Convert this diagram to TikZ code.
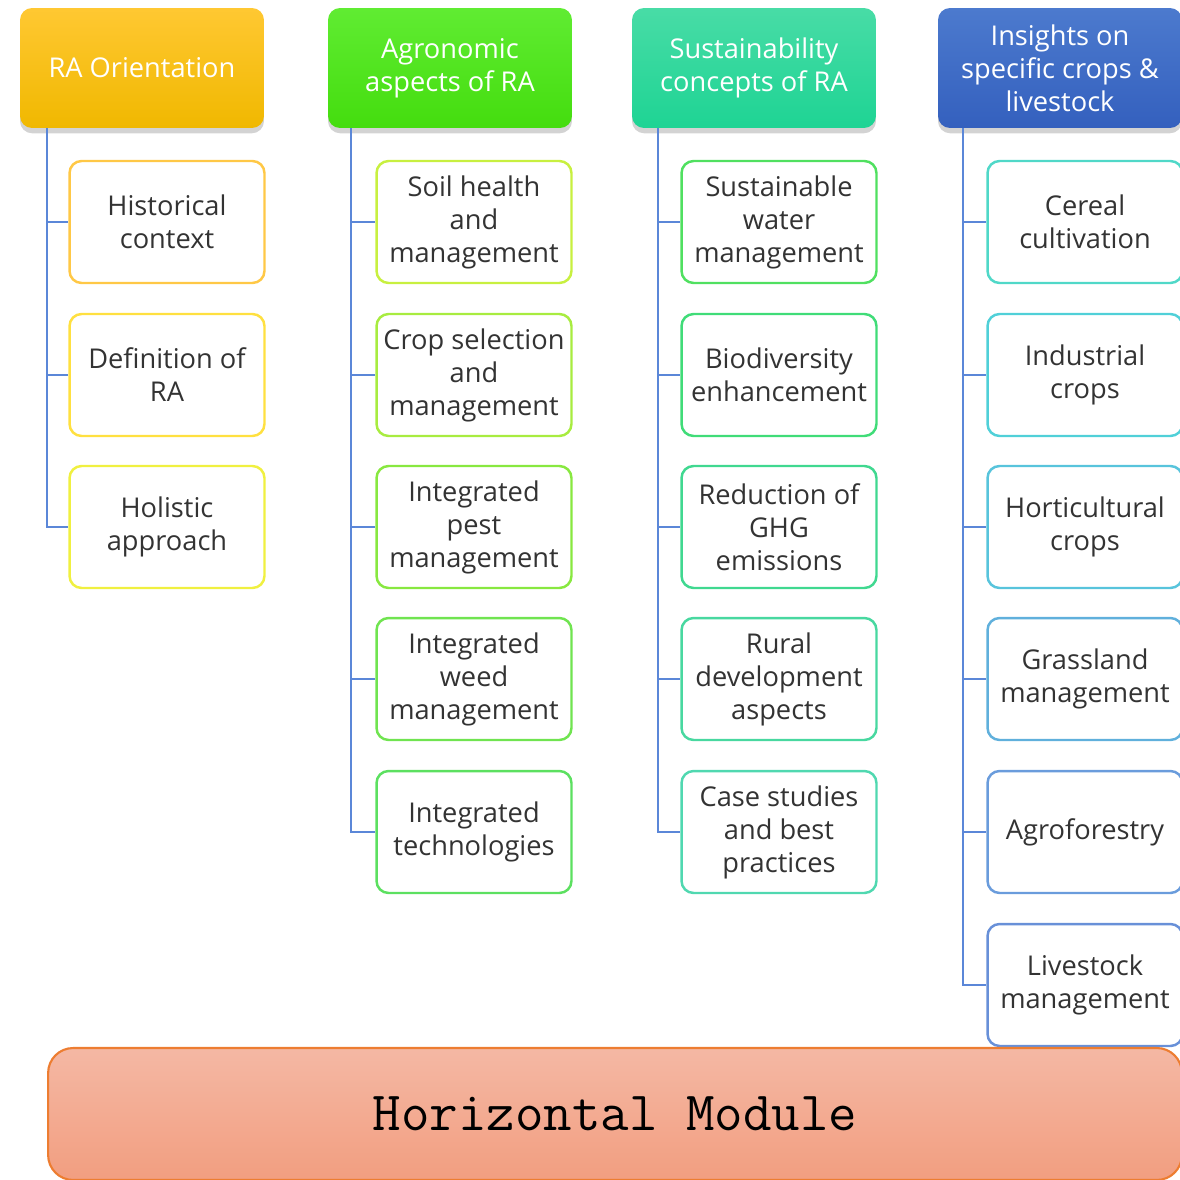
\documentclass[tikz,border=0pt]{standalone}
\usepackage{fontspec}
\setmainfont{Open Sans}
\usepackage{xcolor}
\usepackage{tikz}
\usetikzlibrary{shadows}

\definecolor{treeblue}{HTML}{5B87D8}
\definecolor{textgray}{HTML}{333333}
% header fills
\definecolor{goldtop}{HTML}{FFC832}
\definecolor{goldbot}{HTML}{F0B800}
\definecolor{greentop}{HTML}{60EC32}
\definecolor{greenbot}{HTML}{44DD0E}
\definecolor{tealtop}{HTML}{48DCA6}
\definecolor{tealbot}{HTML}{1ED494}
\definecolor{bluetop}{HTML}{4C7ACE}
\definecolor{bluebot}{HTML}{3460BE}
% topic borders
\definecolor{ra1}{HTML}{FFC846}
\definecolor{ra2}{HTML}{FFE040}
\definecolor{ra3}{HTML}{F0F040}
\definecolor{ag1}{HTML}{C8F040}
\definecolor{ag2}{HTML}{A8EC40}
\definecolor{ag3}{HTML}{88E840}
\definecolor{ag4}{HTML}{70E450}
\definecolor{ag5}{HTML}{5CE060}
\definecolor{su1}{HTML}{50E060}
\definecolor{su2}{HTML}{40DC78}
\definecolor{su3}{HTML}{40D890}
\definecolor{su4}{HTML}{48D8A0}
\definecolor{su5}{HTML}{50D8B0}
\definecolor{in1}{HTML}{50D8C8}
\definecolor{in2}{HTML}{50D0D8}
\definecolor{in3}{HTML}{58C4DC}
\definecolor{in4}{HTML}{60B0DC}
\definecolor{in5}{HTML}{6A9CDC}
\definecolor{in6}{HTML}{6890D8}
% bottom module
\definecolor{modline}{HTML}{ED7D31}
\definecolor{modtop}{HTML}{F4B8A4}
\definecolor{modbot}{HTML}{F29E80}

\begin{document}
\begin{tikzpicture}[x=0.02cm,y=-0.02cm,
  head/.style={rounded corners=0.24cm, minimum width=4.88cm, minimum height=2.4cm,
    align=center, text=white, font=\fontsize{15.5}{18.8}\selectfont,
    drop shadow={opacity=0.35, shadow xshift=0pt, shadow yshift=-3pt}},
  topic/.style={draw=#1, line width=1.4pt, fill=white, rounded corners=0.24cm,
    minimum width=3.9cm, minimum height=2.44cm, align=center, text=textgray,
    font=\fontsize{15.5}{18.8}\selectfont},
  tree/.style={draw=treeblue, line width=1.2pt}]
\useasboundingbox (0,0) rectangle (1180,1180);
\clip (0,0) rectangle (1180,1180);

% headers
\node[head, top color=goldtop, bottom color=goldbot] (h1) at (142,68) {RA Orientation};
\node[head, top color=greentop, bottom color=greenbot] (h2) at (450,68) {Agronomic\\aspects of RA};
\node[head, top color=tealtop, bottom color=tealbot] (h3) at (754,68) {Sustainability\\concepts of RA};
\node[head, top color=bluetop, bottom color=bluebot] (h4) at (1060,68) {Insights on\\specific crops \&\\livestock};

% RA Orientation
\node[topic=ra1] (a1) at (167,222) {Historical\\context};
\node[topic=ra2] (a2) at (167,375) {Definition of\\RA};
\node[topic=ra3] (a3) at (167,527) {Holistic\\approach};

% Agronomic aspects
\node[topic=ag1] (b1) at (474,222) {Soil health\\and\\management};
\node[topic=ag2] (b2) at (474,375) {Crop selection\\and\\management};
\node[topic=ag3] (b3) at (474,527) {Integrated\\pest\\management};
\node[topic=ag4] (b4) at (474,679) {Integrated\\weed\\management};
\node[topic=ag5] (b5) at (474,832) {Integrated\\technologies};

% Sustainability concepts
\node[topic=su1] (c1) at (779,222) {Sustainable\\water\\management};
\node[topic=su2] (c2) at (779,375) {Biodiversity\\enhancement};
\node[topic=su3] (c3) at (779,527) {Reduction of\\GHG\\emissions};
\node[topic=su4] (c4) at (779,679) {Rural\\development\\aspects};
\node[topic=su5] (c5) at (779,832) {Case studies\\and best\\practices};

% Insights on crops & livestock
\node[topic=in1] (d1) at (1085,222) {Cereal\\cultivation};
\node[topic=in2] (d2) at (1085,375) {Industrial\\crops};
\node[topic=in3] (d3) at (1085,527) {Horticultural\\crops};
\node[topic=in4] (d4) at (1085,679) {Grassland\\management};
\node[topic=in5] (d5) at (1085,832) {Agroforestry};
\node[topic=in6] (d6) at (1085,985) {Livestock\\management};

% tree lines
\draw[tree] ([xshift=0.54cm]h1.south west) |- (a1.west);
\draw[tree] ([xshift=0.54cm]h1.south west) |- (a2.west);
\draw[tree] ([xshift=0.54cm]h1.south west) |- (a3.west);

\draw[tree] ([xshift=0.46cm]h2.south west) |- (b1.west);
\draw[tree] ([xshift=0.46cm]h2.south west) |- (b2.west);
\draw[tree] ([xshift=0.46cm]h2.south west) |- (b3.west);
\draw[tree] ([xshift=0.46cm]h2.south west) |- (b4.west);
\draw[tree] ([xshift=0.46cm]h2.south west) |- (b5.west);

\draw[tree] ([xshift=0.52cm]h3.south west) |- (c1.west);
\draw[tree] ([xshift=0.52cm]h3.south west) |- (c2.west);
\draw[tree] ([xshift=0.52cm]h3.south west) |- (c3.west);
\draw[tree] ([xshift=0.52cm]h3.south west) |- (c4.west);
\draw[tree] ([xshift=0.52cm]h3.south west) |- (c5.west);

\draw[tree] ([xshift=0.5cm]h4.south west) |- (d1.west);
\draw[tree] ([xshift=0.5cm]h4.south west) |- (d2.west);
\draw[tree] ([xshift=0.5cm]h4.south west) |- (d3.west);
\draw[tree] ([xshift=0.5cm]h4.south west) |- (d4.west);
\draw[tree] ([xshift=0.5cm]h4.south west) |- (d5.west);
\draw[tree] ([xshift=0.5cm]h4.south west) |- (d6.west);

% bottom module
\node[draw=modline, line width=1.2pt, rounded corners=0.5cm,
  top color=modtop, bottom color=modbot,
  minimum width=22.68cm, minimum height=2.64cm, font=\ttfamily\fontsize{31.5}{36}\selectfont]
  (hm) at (615,1114) {Horizontal Module};
\end{tikzpicture}
\end{document}
